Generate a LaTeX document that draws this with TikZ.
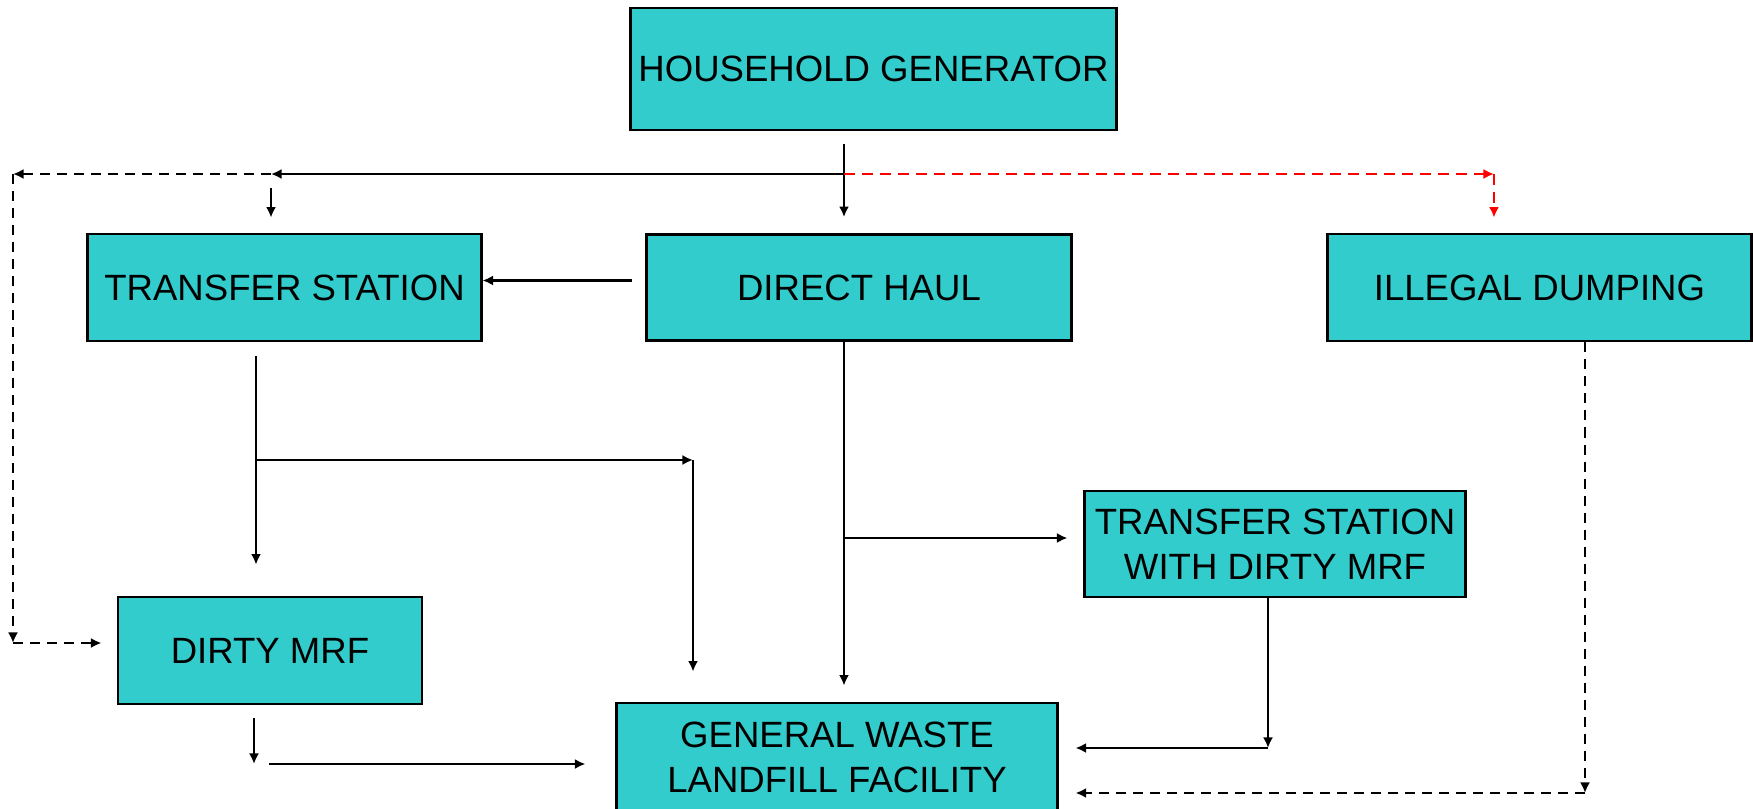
\documentclass[tikz,border=0pt]{standalone}
\usepackage{fontspec}
\setmainfont{Liberation Sans}
\usepackage{tikz}
\usepackage{xcolor}
\usetikzlibrary{arrows.meta,calc}
\definecolor{boxcyan}{RGB}{51,204,204}
\tikzset{>={Latex[length=1.05mm,width=1.0mm]}}
\tikzset{
	box/.style={draw=black,line width=0.8pt,fill=boxcyan,align=center,inner sep=2pt,
		font=\fontsize{10.4}{12.8}\selectfont},
	flow/.style={->,line width=0.6pt},
	dashflow/.style={->,line width=0.6pt,dash pattern=on 0.1cm off 0.07cm},
	redflow/.style={->,line width=0.6pt,red,dash pattern=on 0.11cm off 0.07cm}
}

\begin{document}
\begin{tikzpicture}[x=0.01cm,y=-0.01cm]
	\useasboundingbox (0,0) rectangle (1753,809);
	% boxes
	\node[box,minimum width=4.85cm,minimum height=1.22cm] (hg) at (873.5,69) {HOUSEHOLD GENERATOR};
	\node[box,minimum width=3.93cm,minimum height=1.07cm] (ts) at (284.5,287.5) {TRANSFER STATION};
	\node[box,minimum width=4.24cm,minimum height=1.06cm] (dh) at (859,287.5) {DIRECT HAUL};
	\node[box,minimum width=4.23cm,minimum height=1.07cm] (id) at (1539.5,287.5) {ILLEGAL DUMPING};
	\node[box,minimum width=3.80cm,minimum height=1.06cm] (tsd) at (1275,544) {TRANSFER STATION\\WITH DIRTY MRF};
	\node[box,minimum width=3.04cm,minimum height=1.07cm] (dm) at (270,650.5) {DIRTY MRF};
	\node[box,minimum width=4.40cm,minimum height=1.08cm] (gw) at (837,757) {GENERAL WASTE\\LANDFILL FACILITY};
	% junctions
	\coordinate (split) at (844,174);
	\coordinate (tsin) at (271,174);
	\coordinate (lcorner) at (13,174);
	\coordinate (lbottom) at (13,643);
	\coordinate (rcorner) at (1494,174);
	\coordinate (tsbr) at (256,460);
	\coordinate (gwin) at (693,460);
	\coordinate (dhbr) at (844,538);
	\coordinate (tsdc) at (1268,748);
	\coordinate (idc) at (1585,793);
	\coordinate (dmc) at (254,764);
	% top distribution
	\draw[flow,shorten <=0.13cm,shorten >=0.16cm] (hg.south -| split) -- (dh.north -| split);
	\draw[flow] (split) -- (tsin);
	\draw[dashflow] (tsin) -- (lcorner);
	\draw[dashflow] (lcorner) -- (lbottom);
	\draw[dashflow,shorten >=0.15cm] (lbottom) -- (dm.west |- lbottom);
	\draw[flow,shorten <=0.14cm,shorten >=0.15cm] (tsin) -- (ts.north -| tsin);
	\draw[flow,shorten <=0.13cm] ([yshift=0.07cm]dh.west) -- ([yshift=0.07cm]ts.east);
	\draw[redflow] (split) -- (rcorner);
	\draw[redflow,shorten >=0.15cm] (rcorner) -- (id.north -| rcorner);
	% transfer station
	\draw[flow,shorten <=0.14cm,shorten >=0.31cm] (ts.south -| tsbr) -- (dm.north -| tsbr);
	\draw[flow] (tsbr) -- (gwin);
	\draw[flow,shorten >=0.30cm] (gwin) -- (gw.north -| gwin);
	% direct haul
	\draw[flow,shorten >=0.16cm] (dh.south -| split) -- (gw.north -| split);
	\draw[flow,shorten >=0.16cm] (dhbr) -- (tsd.west |- dhbr);
	% to landfill
	\draw[flow] (tsd.south -| tsdc) -- (tsdc);
	\draw[flow,shorten >=0.17cm] (tsdc) -- (gw.east |- tsdc);
	\draw[dashflow] (id.south -| idc) -- (idc);
	\draw[dashflow,shorten >=0.17cm] (idc) -- (gw.east |- idc);
	\draw[flow,shorten <=0.13cm] (dm.south -| dmc) -- (dmc);
	\draw[flow,shorten <=0.15cm,shorten >=0.30cm] (dmc) -- (gw.west |- dmc);
\end{tikzpicture}
\end{document}
